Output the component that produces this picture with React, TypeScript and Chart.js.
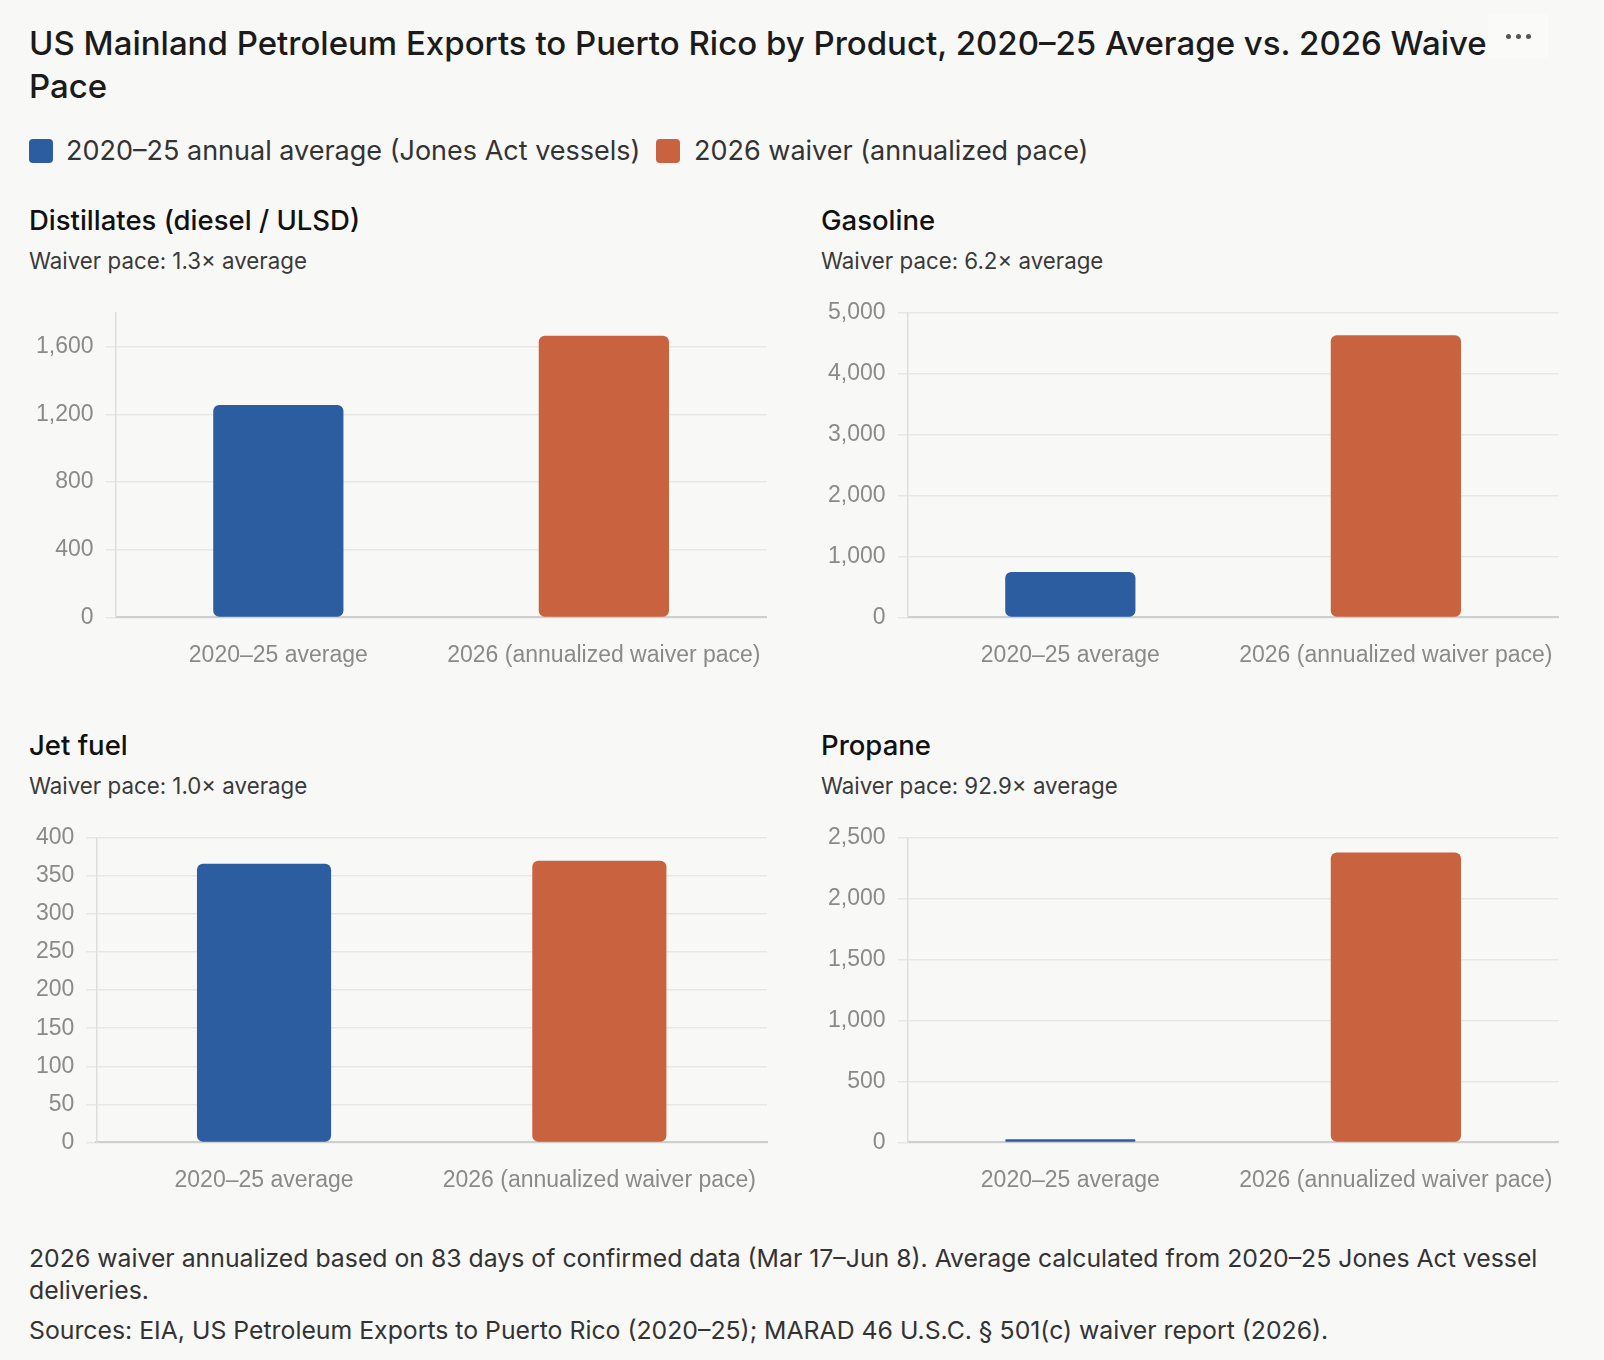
import React, { useEffect, useRef } from "react";
import { Chart, registerables } from "chart.js";

Chart.register(...registerables);

// ---- Data ----
const categories = ["2020–25 average", "2026 (annualized waiver pace)"];
const legendLabels = ["2020–25 annual average (Jones Act vessels)", "2026 waiver (annualized pace)"];
const seriesColors = ["#2d5da1", "#c9623f"];

const productNames = ["Distillates (diesel / ULSD)", "Gasoline", "Jet fuel", "Propane"];
const paceLabels = ["Waiver pace: 1.3× average", "Waiver pace: 6.2× average", "Waiver pace: 1.0× average", "Waiver pace: 92.9× average"];

const distillatesValues = [1255, 1665];
const gasolineValues = [745, 4630];
const jetFuelValues = [366, 370];
const propaneValues = [25.6, 2380];

const axisMax = [1800, 5000, 400, 2500];
const axisStep = [400, 1000, 50, 500];
const axisLastLabel = [1600, 5000, 400, 2500];

const titleLine1 = "US Mainland Petroleum Exports to Puerto Rico by Product, 2020–25 Average vs. 2026 Waiver";
const titleLine2 = "Pace";
const footnote = "2026 waiver annualized based on 83 days of confirmed data (Mar 17–Jun 8). Average calculated from 2020–25 Jones Act vessel deliveries.";
const sources = "Sources: EIA, US Petroleum Exports to Puerto Rico (2020–25); MARAD 46 U.S.C. § 501(c) waiver report (2026).";

const BG = "#f8f8f6";
const UI_FONT = "Inter, 'Noto Sans', sans-serif";
const TICK_FONT = "'Liberation Sans', Arial, sans-serif";

function BarPanel({ values, max, step, lastLabel, left, top }: { values: number[]; max: number; step: number; lastLabel: number; left: number; top: number }) {
  const ref = useRef<HTMLCanvasElement | null>(null);
  useEffect(() => {
    if (!ref.current) return;
    const chart = new Chart(ref.current, {
      type: "bar",
      data: {
        labels: categories,
        datasets: [
          {
            data: values,
            backgroundColor: seriesColors,
            borderRadius: 6,
            borderSkipped: false,
            categoryPercentage: 0.8,
            barPercentage: 0.5,
          },
        ],
      },
      options: {
        animation: false,
        responsive: true,
        maintainAspectRatio: false,
        layout: { padding: { left: 6, right: 2, top: 0, bottom: 0 } },
        plugins: { legend: { display: false }, tooltip: { enabled: false } },
        scales: {
          x: {
            grid: { display: true, drawOnChartArea: false, drawTicks: true, tickLength: 16, tickColor: "rgba(0,0,0,0)", color: "rgba(0,0,0,0)" },
            border: { display: true, color: "#cfcfcf", width: 2 },
            ticks: {
              color: "#8a8a8a",
              padding: 8,
              maxRotation: 0,
              autoSkip: false,
              font: { family: TICK_FONT, size: 23 },
            },
          },
          y: {
            min: 0,
            max: max,
            afterBuildTicks: (scale: any) => {
              scale.ticks = scale.ticks.filter((t: any) => t.value <= lastLabel);
            },
            ticks: {
              stepSize: step,
              color: "#8a8a8a",
              padding: 12,
              font: { family: TICK_FONT, size: 23 },
            },
            grid: { color: "#e7e7e5", lineWidth: 1.5, tickLength: 10, drawTicks: true },
            border: { display: true, color: "#dedede", width: 1.5 },
          },
        },
      },
    });
    return () => chart.destroy();
  }, [values, max, step, lastLabel]);
  return (
    <div style={{ position: "absolute", left, top, width: 751, height: 390 }}>
      <canvas ref={ref} />
    </div>
  );
}

export default function App() {
  useEffect(() => {
    document.body.style.margin = "0";
    document.body.style.background = BG;
  }, []);

  const panels = [
    { values: distillatesValues, col: 0, row: 0 },
    { values: gasolineValues, col: 1, row: 0 },
    { values: jetFuelValues, col: 0, row: 1 },
    { values: propaneValues, col: 1, row: 1 },
  ];
  const colX = [29, 821];
  const rowDY = [0, 525];

  return (
    <div style={{ position: "relative", width: 1604, height: 1360, background: BG, fontFamily: UI_FONT, overflow: "hidden" }}>
      <div style={{ position: "absolute", left: 29, top: 22, fontSize: 33, lineHeight: "43px", fontWeight: 500, color: "#1b1b1b", whiteSpace: "nowrap" }}>
        {titleLine1}
        <br />
        {titleLine2}
      </div>
      <div style={{ position: "absolute", left: 1488, top: 14, width: 60, height: 44, background: "#fafaf9", display: "flex", alignItems: "center", justifyContent: "center", gap: 5 }}>
        {[0, 1, 2].map((i) => (
          <div key={i} style={{ width: 5, height: 5, borderRadius: 3, background: "#555" }} />
        ))}
      </div>

      {legendLabels.map((lab, i) => (
        <React.Fragment key={i}>
          <div style={{ position: "absolute", left: i === 0 ? 29 : 656, top: 139, width: 24, height: 24, borderRadius: 4, background: seriesColors[i] }} />
          <div style={{ position: "absolute", left: i === 0 ? 66 : 694, top: 135, fontSize: 27, lineHeight: "32px", color: "#333", whiteSpace: "nowrap" }}>{lab}</div>
        </React.Fragment>
      ))}

      {panels.map((p, i) => (
        <React.Fragment key={i}>
          <div style={{ position: "absolute", left: colX[p.col], top: 204 + rowDY[p.row], fontSize: 27.5, lineHeight: "32px", fontWeight: 500, color: "#111", whiteSpace: "nowrap" }}>{productNames[i]}</div>
          <div style={{ position: "absolute", left: colX[p.col], top: 247 + rowDY[p.row], fontSize: 22.3, lineHeight: "28px", color: "#3a3a3a", whiteSpace: "nowrap" }}>{paceLabels[i]}</div>
          <BarPanel values={p.values} max={axisMax[i]} step={axisStep[i]} lastLabel={axisLastLabel[i]} left={colX[p.col] - 11} top={287 + rowDY[p.row]} />
        </React.Fragment>
      ))}

      <div style={{ position: "absolute", left: 29, top: 1242, width: 1540, fontSize: 24.8, lineHeight: "32px", color: "#333" }}>
        <div>{footnote}</div>
        <div style={{ marginTop: 8 }}>{sources}</div>
      </div>
    </div>
  );
}
